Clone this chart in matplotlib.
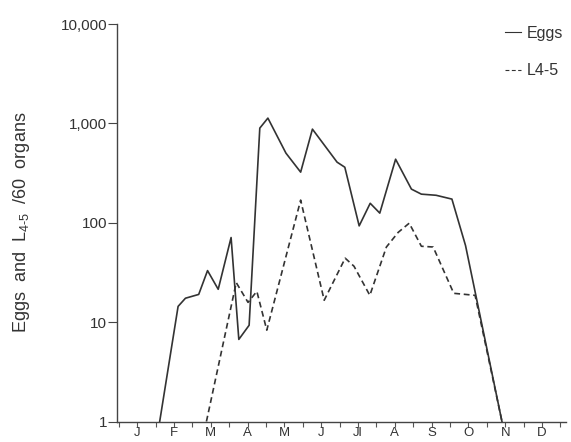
import matplotlib
matplotlib.use("Agg")
import matplotlib.pyplot as plt
import matplotlib.ticker as mticker
import numpy as np

plt.rcParams['font.family'] = ['Liberation Sans', 'DejaVu Sans']
plt.rcParams['mathtext.fontset'] = 'custom'
plt.rcParams['mathtext.rm'] = 'Liberation Sans'
plt.rcParams['mathtext.it'] = 'Liberation Sans'

# Month axis: 0 = 1 January, 12 = 31 December
month_labels = ["J", "F", "M", "A", "M", "J", "Jl", "A", "S", "O", "N", "D"]

eggs_x = [1.11, 1.61, 1.81, 2.17, 2.41, 2.70, 3.05, 3.26, 3.54, 3.83, 4.05,
          4.54, 4.94, 5.26, 5.93, 6.14, 6.53, 6.83, 7.09, 7.52, 7.95, 8.22,
          8.62, 9.05, 9.42, 10.41]
eggs_y = [1, 14.4, 17.4, 19, 33, 21.4, 71, 6.7, 9.3, 896, 1130,
          502, 323, 875, 407, 362, 93, 157, 125, 436, 218, 194,
          189, 173, 59, 1]

larvae_x = [2.38, 3.19, 3.51, 3.75, 4.02, 4.94, 5.58, 6.15, 6.39, 6.82,
            7.27, 7.59, 7.89, 8.22, 8.54, 9.10, 9.68, 10.41]
larvae_y = [1, 25, 15.8, 20.4, 8.3, 169, 16.6, 44, 36.5, 18.6,
            57, 80, 99, 58, 57, 19.5, 18.6, 1]

ytick_vals = [1, 10, 100, 1000, 10000]
ytick_labels = ["1", "10", "100", "1,000", "10,000"]

W, H = 571, 442
fig = plt.figure(figsize=(W / 100, H / 100), dpi=100)
ax = fig.add_axes([117 / W, (H - 421.5) / H, (566 - 117) / W, (421.5 - 24) / H])

col = "#333333"
ax.plot(eggs_x, eggs_y, color=col, lw=1.2, label="Eggs")
ax.plot(larvae_x, larvae_y, color=col, lw=1.2, linestyle=(0, (3.5, 2.2)), label="L4-5")

ax.set_yscale("log")
ax.set_ylim(1, 10000)
ax.set_xlim(-0.05, 12.15)

ax.yaxis.set_major_locator(mticker.FixedLocator(ytick_vals))
ax.set_yticklabels(ytick_labels)
ax.yaxis.set_minor_locator(mticker.NullLocator())

centers = np.arange(12) + 0.5
ax.set_xticks(centers)
ax.set_xticklabels(month_labels)
ax.set_xticks(np.arange(0, 13), minor=True)

for s in ["top", "right"]:
    ax.spines[s].set_visible(False)
for s in ["left", "bottom"]:
    ax.spines[s].set_color("#444444")
    ax.spines[s].set_linewidth(1.0)

ax.tick_params(axis="x", which="both", direction="out", length=3.5, width=0.8,
               color="#555555", labelsize=9.5, labelcolor=col, pad=0.5)
ax.tick_params(axis="y", which="major", direction="out", length=6.5, width=0.8,
               color="#444444", labelsize=11, labelcolor=col, pad=0.5)

ax.set_ylabel(r"Eggs  and  L$_{\mathregular{4‐5}}$  /60  organs", fontsize=13,
              color=col)
ax.yaxis.set_label_coords(-0.19, 0.5)

leg = ax.legend(loc="upper left", bbox_to_anchor=(505 / W, 1 - 26 / H),
                bbox_transform=fig.transFigure, frameon=False, fontsize=11.5,
                handlelength=1.0, handletextpad=0.35, labelspacing=1.4,
                borderpad=0, borderaxespad=0)
for t in leg.get_texts():
    t.set_color(col)
for l in leg.get_lines():
    l.set_linewidth(0.8)

fig.savefig("out.png", dpi=100)
